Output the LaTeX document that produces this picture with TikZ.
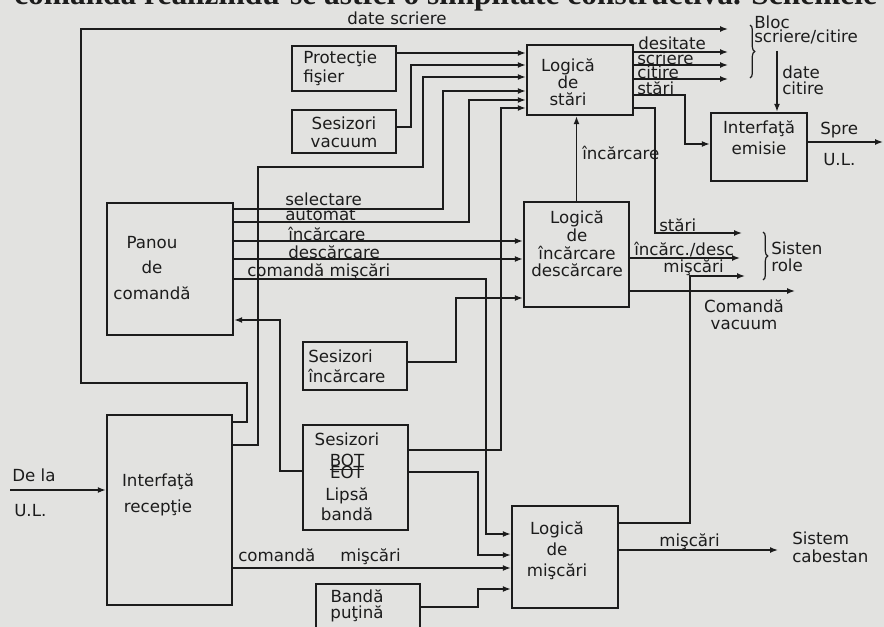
\documentclass[tikz,border=0pt]{standalone}
\usepackage{fontspec}
\usepackage{graphicx}
\setmainfont{DejaVu Sans}
\newfontfamily\bodyfont{Liberation Serif}
\usetikzlibrary{arrows.meta,decorations.pathreplacing}
\definecolor{paper}{RGB}{226,226,224}
\definecolor{ink}{RGB}{28,28,28}
\begin{document}
\begin{tikzpicture}[x=0.75pt,y=-0.75pt,
  box/.style={draw=ink, line width=1.8pt, inner sep=0pt},
  wire/.style={draw=ink, line width=1.1pt},
  arr/.style={wire, -{Latex[length=6pt,width=4.5pt]}},
  txt/.style={text=ink, inner sep=0pt, align=center, font=\fontsize{12.5}{#1}\selectfont},
  txt/.default=15pt,
  lbl/.style={txt=#1, anchor=west, align=left},
  lbl/.default=15pt,
  brc/.style={draw=ink, line width=0.9pt, decorate, decoration={brace, amplitude=3.5pt}}]
\useasboundingbox (0,0) rectangle (884,627);
\fill[paper] (0,0) rectangle (884,627);
\clip (0,0) rectangle (884,627);

% cut-off line of body text
\node[anchor=base west, inner sep=0pt, text=ink] (body) at (14,5)
  {\resizebox{647pt}{!}{\bodyfont\bfseries comanda realizîndu-se astfel o simplitate constructivă. Schemele}};

% boxes
\node[box, minimum width=78pt, minimum height=33.75pt] (prot) at (344,68.5) {};
\node[box, minimum width=78pt, minimum height=32.25pt] (svac) at (344,131.5) {};
\node[box, minimum width=79.5pt, minimum height=52.5pt] (lstari) at (580,80) {};
\node[box, minimum width=72pt, minimum height=51pt] (iemis) at (759,147) {};
\node[box, minimum width=94.5pt, minimum height=99pt] (panou) at (170,269) {};
\node[box, minimum width=78pt, minimum height=36pt] (sinc) at (355,366) {};
\node[box, minimum width=78.75pt, minimum height=78.75pt] (linc) at (576.5,254.5) {};
\node[box, minimum width=93.75pt, minimum height=142.5pt] (irec) at (169.5,510) {};
\node[box, minimum width=78.75pt, minimum height=78.75pt] (sbot) at (355.5,477.5) {};
\node[box, minimum width=78pt, minimum height=42pt] (bpt) at (368,612) {};
\node[box, minimum width=79.5pt, minimum height=76.5pt] (lmisc) at (565,557) {};

% box texts
\node[lbl=14pt] (tprot) at (303,68.5) {Protecţie\\fişier};
\node[txt=13.5pt] (tsvac) at (344,132) {Sesizori\\vacuum};
\node[txt=12.75pt] (tlstari) at (568,82) {Logică\\de\\stări};
\node[txt=16pt] (tiemis) at (759,138) {Interfaţă\\emisie};
\node[txt=19pt] (tpanou) at (152,268) {Panou\\de\\comandă};
\node[lbl=15pt] (tsinc) at (308,366) {Sesizori\\încărcare};
\node[txt=13.3pt] (tlinc) at (577,244) {Logică\\de\\încărcare\\descărcare};
\node[txt=19pt] (tirec) at (158,495) {Interfaţă\\recepţie};
\node[txt=12pt] (tsbot) at (347,477) {Sesizori\\[3.75pt]\underline{BOT}\\[-3pt]EOT\\[4.5pt]Lipsă\\[1.5pt]bandă};
\node[txt=12pt] (tbpt) at (357,606) {Bandă\\puţină};
\node[txt=15.75pt] (tlmisc) at (557,551) {Logică\\de\\mişcări};

% free ends
\coordinate (blocA) at (728,29);
\coordinate (blocB) at (728,52);
\coordinate (blocC) at (728,65);
\coordinate (blocD) at (728,79);
\coordinate (dcit) at (777,51);
\coordinate (ulout) at (883,142);
\coordinate (roleA) at (742,233);
\coordinate (roleB) at (740,258);
\coordinate (roleC) at (745,276);
\coordinate (vacA) at (795,291);
\coordinate (cabA) at (778,550);
\coordinate (ulin) at (10,490);

% connectors
\draw[arr] (irec.east |- 0,422) -- (247,422) -- (247,383) -- (81,383) -- (81,29) -- (blocA);
\draw[arr] (prot.east |- 0,53) -- (lstari.west |- 0,53);
\draw[arr] (svac.east |- 0,127) -- (411,127) -- (411,65) -- (lstari.west |- 0,65);
\draw[arr] (irec.east |- 0,445) -- (258,445) -- (258,167) -- (423,167) -- (423,77) -- (lstari.west |- 0,77);
\draw[arr] (panou.east |- 0,209) -- (443,209) -- (443,91) -- (lstari.west |- 0,91);
\draw[arr] (panou.east |- 0,222) -- (469,222) -- (469,100) -- (lstari.west |- 0,100);
\draw[arr] (sbot.east |- 0,450) -- (501,450) -- (501,108) -- (lstari.west |- 0,108);
\draw[arr] (panou.east |- 0,241) -- (linc.west |- 0,241);
\draw[arr] (panou.east |- 0,259) -- (linc.west |- 0,259);
\draw[arr] (panou.east |- 0,279) -- (486,279) -- (486,534) -- (lmisc.west |- 0,534);
\draw[arr] (sinc.east |- 0,362) -- (456,362) -- (456,298) -- (linc.west |- 0,298);
\draw[arr] (sbot.west |- 0,471) -- (280,471) -- (280,320) -- (panou.east |- 0,320);
\draw[arr] (sbot.east |- 0,472) -- (478,472) -- (478,555) -- (lmisc.west |- 0,555);
\draw[arr] (irec.east |- 0,568) -- (lmisc.west |- 0,568);
\draw[arr] (bpt.east |- 0,607) -- (478,607) -- (478,589) -- (lmisc.west |- 0,589);
\draw[arr] (linc.north) -- (linc.north |- lstari.south);
\draw[arr] (lstari.east |- 0,52) -- (blocB);
\draw[arr] (lstari.east |- 0,65) -- (blocC);
\draw[arr] (lstari.east |- 0,79) -- (blocD);
\draw[arr] (lstari.east |- 0,95) -- (685,95) -- (685,144) -- (iemis.west |- 0,144);
\draw[arr] (lstari.east |- 0,108) -- (655,108) -- (655,233) -- (roleA);
\draw[arr] (dcit) -- (iemis.north -| dcit);
\draw[arr] (iemis.east |- 0,142) -- (ulout);
\draw[arr] (linc.east |- 0,258) -- (roleB);
\draw[arr] (lmisc.east |- 0,523) -- (690,523) -- (690,276) -- (roleC);
\draw[arr] (linc.east |- 0,291) -- (vacA);
\draw[arr] (lmisc.east |- 0,550) -- (cabA);
\draw[arr] (ulin) -- (irec.west |- 0,490);

% braces
\coordinate (b1t) at (750,25);
\coordinate (b1b) at (750,78);
\coordinate (b2t) at (763,232);
\coordinate (b2b) at (763,280);
\draw[brc] (b1t) -- (b1b);
\draw[brc] (b2t) -- (b2b);

% labels
\node[txt] (ldatescr) at (397,18) {date scriere};
\node[lbl=10.5pt] (lbloc) at (754,30) {Bloc\\scriere/citire};
\node[lbl] (ldesit) at (638,43) {desitate};
\node[lbl] (lscr) at (637,58) {scriere};
\node[lbl] (lcit) at (637,72) {citire};
\node[lbl] (lstr1) at (637,88) {stări};
\node[lbl=12pt] (ldatecit) at (782,80) {date\\citire};
\node[lbl] (lspre) at (820,130) {Spre};
\node[lbl] (lul1) at (823,160) {U.L.};
\node[lbl] (lincarc) at (582,153) {încărcare};
\node[lbl] (lselect) at (285,199) {selectare};
\node[lbl] (lauto) at (285,215) {automat};
\node[lbl] (lincp) at (288,234) {încărcare};
\node[lbl] (ldescp) at (288,252) {descărcare};
\node[lbl] (lcmd1) at (247,272) {comandă mişcări};
\node[lbl] (lstr2) at (659,225) {stări};
\node[lbl] (lincdesc) at (634,250) {încărc./desc};
\node[lbl] (lmisc1) at (663,268) {mişcări};
\node[lbl=12.75pt] (lrole) at (771,257) {Sisten\\role};
\node[txt=12.75pt] (lvac) at (744,315) {Comandă\\vacuum};
\node[lbl] (ldela) at (12,475) {De la};
\node[lbl] (lul2) at (14,511) {U.L.};
\node[lbl] (lcmd2) at (238,555) {comandă};
\node[lbl] (lmisc2) at (340,557) {mişcări};
\node[lbl] (lmisc3) at (659,542) {mişcări};
\node[lbl=13.5pt] (lcab) at (792,547) {Sistem\\cabestan};
\end{tikzpicture}
\end{document}
